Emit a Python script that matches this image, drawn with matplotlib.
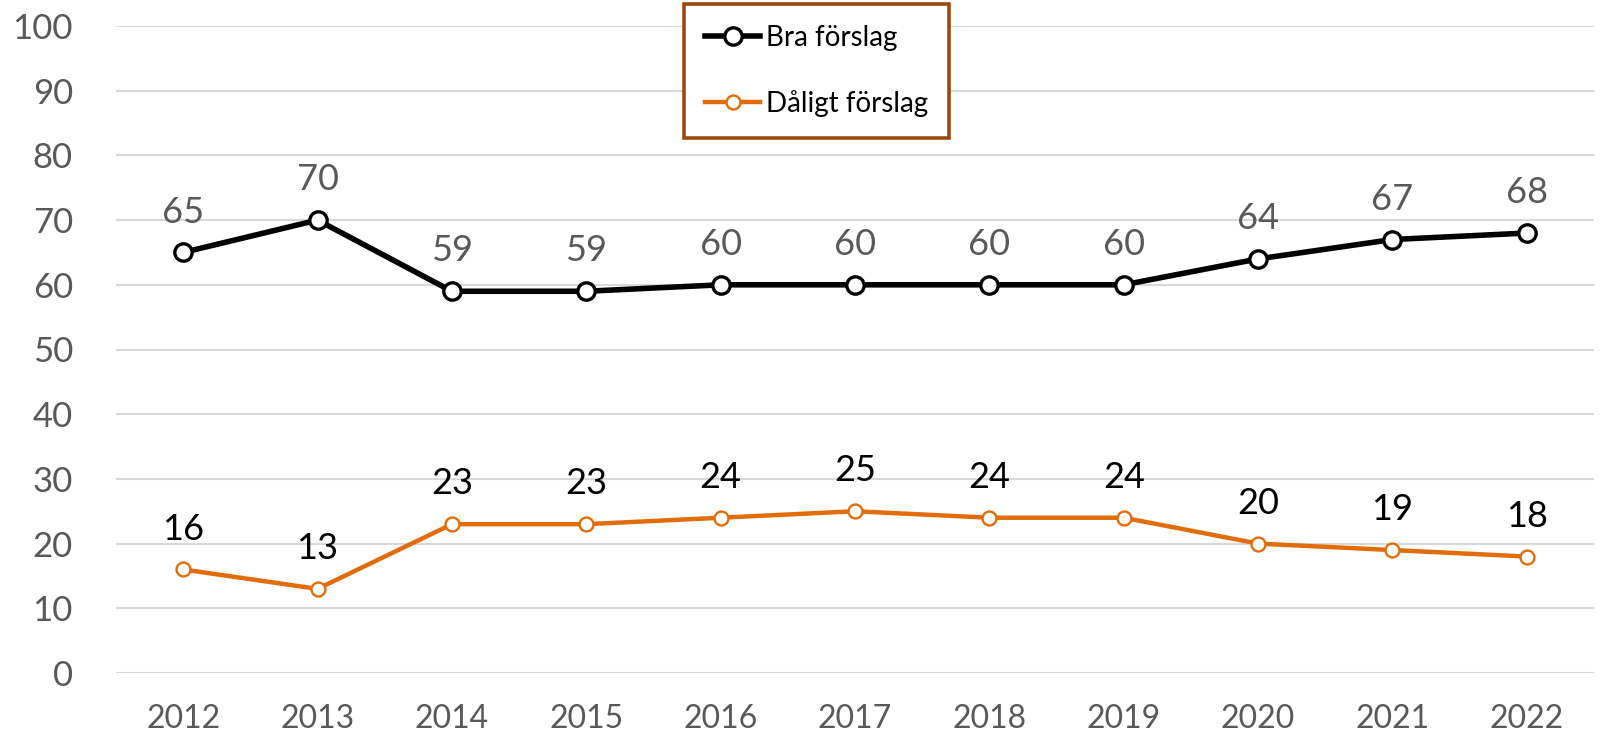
import matplotlib.pyplot as plt

years = ['2012', '2013', '2014', '2015', '2016', '2017', '2018', '2019', '2020', '2021', '2022']
bra = [65, 70, 59, 59, 60, 60, 60, 60, 64, 67, 68]
daligt = [16, 13, 23, 23, 24, 25, 24, 24, 20, 19, 18]
yticks = [0, 10, 20, 30, 40, 50, 60, 70, 80, 90, 100]

plt.rcParams['font.family'] = ['Lato', 'DejaVu Sans']

fig = plt.figure(figsize=(16.10, 7.37), dpi=100)
ax = fig.add_axes([116 / 1610, 1 - 673 / 737, (1594 - 116) / 1610, (673 - 26) / 737])

x = list(range(len(years)))
orange = '#E36C0A'

ax.plot(x, bra, color='black', lw=4.0, marker='o', ms=12.5, mfc='white',
        mec='black', mew=2.4, label='Bra förslag', zorder=3)
ax.plot(x, daligt, color=orange, lw=3.2, marker='o', ms=10, mfc='white',
        mec=orange, mew=1.7, label='Dåligt förslag', zorder=3)

# data labels
for xi, v in zip(x, bra):
    ax.annotate(str(v), (xi, v), xytext=(0, 21.5), textcoords='offset points',
                ha='center', va='baseline', fontsize=26, color='#595959')
for xi, v in zip(x, daligt):
    ax.annotate(str(v), (xi, v), xytext=(0, 21.5), textcoords='offset points',
                ha='center', va='baseline', fontsize=26, color='black')

ax.set_xlim(-0.5, len(years) - 0.5)
ax.set_ylim(0, 100)
ax.set_yticks(yticks)
ax.set_xticks(x)
ax.set_xticklabels(years)
ax.tick_params(axis='y', length=0, pad=31, labelsize=25, labelcolor='#595959')
ax.tick_params(axis='x', length=0, pad=22, labelsize=23, labelcolor='#595959')
ax.grid(axis='y', color='#D9D9D9', lw=1.5)
ax.set_axisbelow(True)
for s in ax.spines.values():
    s.set_visible(False)

leg = ax.legend(loc='upper left', bbox_to_anchor=(684 / 1610, 1 - 4 / 737),
                bbox_transform=fig.transFigure, fontsize=20, frameon=True,
                fancybox=False, framealpha=1, handlelength=2.0, handletextpad=0.2,
                labelspacing=1.4, borderpad=0.75, borderaxespad=0)
leg.get_frame().set_edgecolor('#9A4A0E')
leg.get_frame().set_linewidth(2.6)

fig.savefig('out.png', dpi=100)
